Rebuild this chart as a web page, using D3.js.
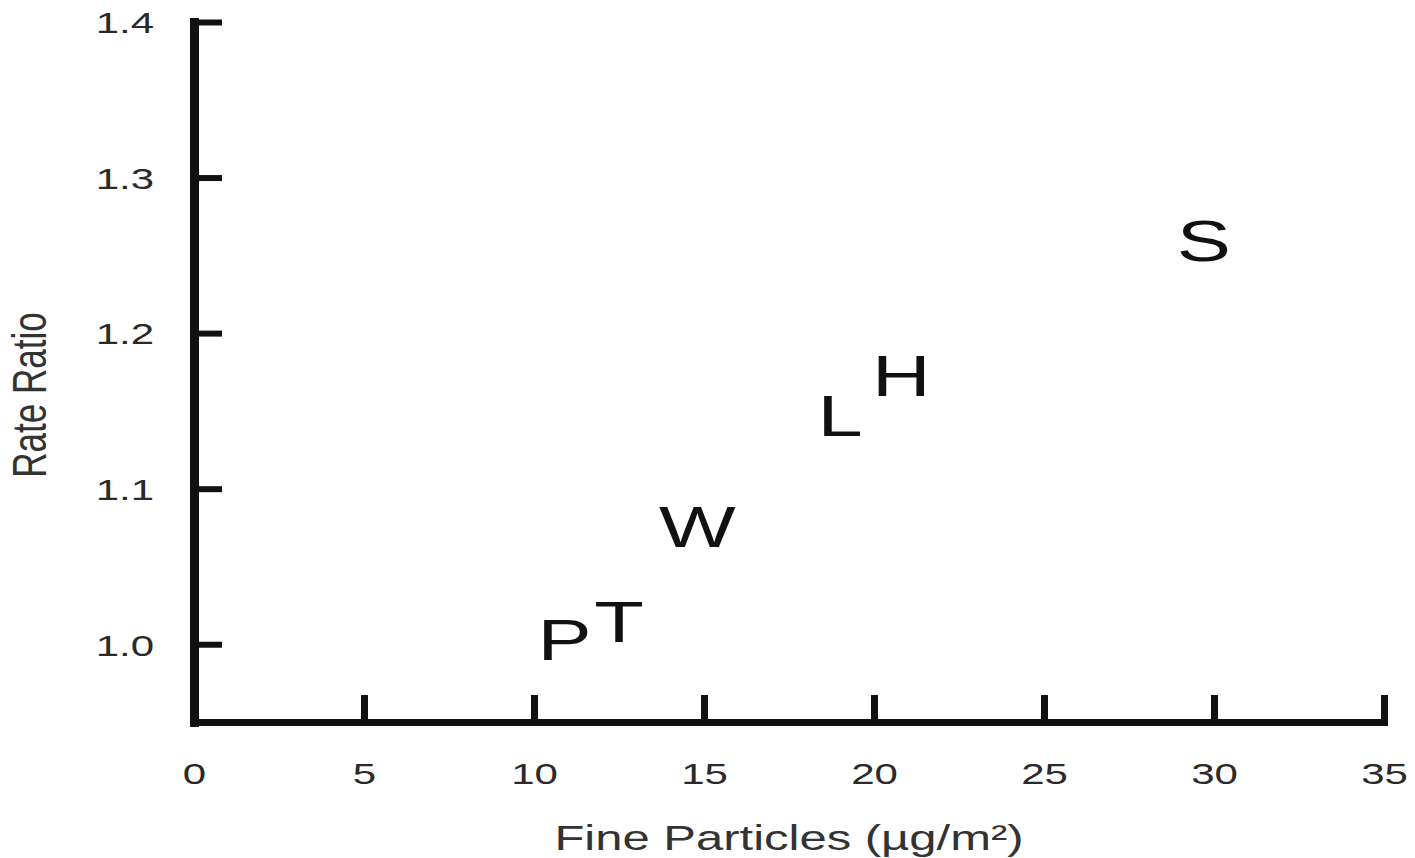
<!DOCTYPE html>
<html>
<head>
<meta charset="utf-8">
<script src="https://cdn.jsdelivr.net/npm/d3@7"></script>
<style>
  html, body { margin: 0; padding: 0; background: #fff; }
  svg { display: block; }
</style>
</head>
<body>
<svg id="chart" width="1415" height="858"></svg>
<script>
// ---- data ----
const labels  = ["P", "T", "W", "L", "H", "S"];
const xValues = [10.9, 12.5, 14.8, 19.0, 20.8, 29.7];
const yValues = [1.003, 1.015, 1.076, 1.147, 1.173, 1.26];
const xTicks  = [0, 5, 10, 15, 20, 25, 30, 35];
const yTicks  = [1.0, 1.1, 1.2, 1.3, 1.4];
const xTitle  = "Fine Particles (\u00B5g/m\u00B2)";
const yTitle  = "Rate Ratio";

// ---- layout ----
const FONT = "'Liberation Sans', Arial, Helvetica, sans-serif";
const SX = 1.4; // horizontal stretch of the scanned figure's text
const svg = d3.select("#chart");

const x = d3.scaleLinear().domain([0, 35]).range([194, 1384]);
const y = d3.scaleLinear().domain([0.95, 1.4]).range([722, 22]);

// x axis
const gx = svg.append("g")
  .attr("transform", `translate(0,${y(0.95)})`)
  .call(d3.axisBottom(x).tickValues(xTicks).tickSizeInner(-27).tickSizeOuter(0).tickFormat(d3.format("d")));
gx.select(".domain").attr("stroke", "#111").attr("stroke-width", 7).attr("stroke-linecap", "square");
gx.selectAll(".tick line").attr("stroke", "#111").attr("stroke-width", 7)
  .attr("opacity", d => d === 0 ? 0 : 1);
gx.selectAll(".tick text")
  .attr("y", null).attr("dy", null)
  .attr("transform", `translate(0,62) scale(${SX},1)`)
  .attr("font-family", FONT).attr("font-size", 30).attr("fill", "#2a2a2a")
  .attr("text-anchor", "middle");

// y axis
const gy = svg.append("g")
  .attr("transform", `translate(${x(0)},0)`)
  .call(d3.axisLeft(y).tickValues(yTicks).tickSizeInner(-28).tickSizeOuter(0).tickFormat(d3.format(".1f")));
gy.select(".domain").attr("stroke", "#111").attr("stroke-width", 9).attr("stroke-linecap", "square");
gy.selectAll(".tick line").attr("stroke", "#111").attr("stroke-width", 6);
gy.selectAll(".tick text")
  .attr("x", null).attr("dy", "0.36em")
  .attr("transform", `translate(-40,0) scale(${SX},1)`)
  .attr("font-family", FONT).attr("font-size", 30).attr("fill", "#2a2a2a")
  .attr("text-anchor", "end");
// draw x axis over y axis corner
gx.raise();

// axis titles
svg.append("text")
  .attr("transform", `translate(${(x(0) + x(35)) / 2},850) scale(${SX},1)`)
  .attr("text-anchor", "middle")
  .attr("font-family", FONT).attr("font-size", 35).attr("fill", "#333")
  .text(xTitle);

svg.append("text")
  .attr("transform", `translate(46,395) scale(${SX},1) rotate(-90)`)
  .attr("text-anchor", "middle")
  .attr("font-family", FONT).attr("font-size", 35).attr("fill", "#333")
  .text(yTitle);

// letter markers
svg.append("g").selectAll("text")
  .data(labels.map((l, i) => ({ l, x: xValues[i], y: yValues[i] })))
  .join("text")
  .attr("transform", d => `translate(${x(d.x)},${y(d.y)}) scale(${SX},1)`)
  .attr("dy", "0.358em")
  .attr("text-anchor", "middle")
  .attr("font-family", FONT).attr("font-size", 58).attr("fill", "#111")
  .text(d => d.l);
</script>
</body>
</html>
